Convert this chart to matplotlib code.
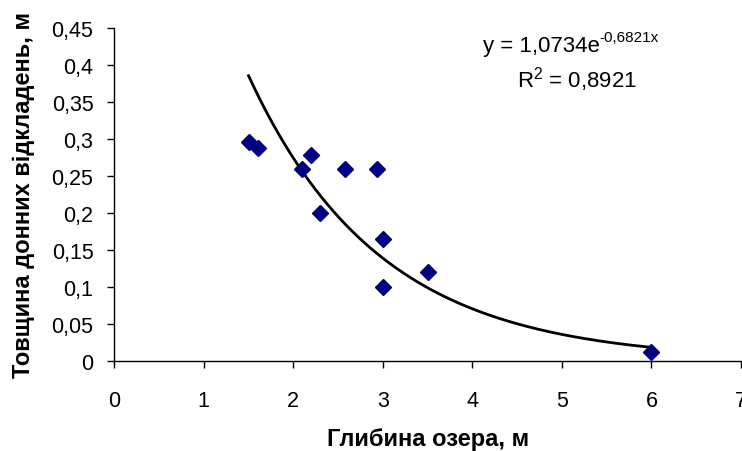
import numpy as np
import matplotlib
matplotlib.use("Agg")
import matplotlib.pyplot as plt
from matplotlib.ticker import FuncFormatter

plt.rcParams['font.family'] = ['Liberation Sans', 'DejaVu Sans']
plt.rcParams['mathtext.fontset'] = 'custom'
plt.rcParams['mathtext.rm'] = 'Liberation Sans'
plt.rcParams['mathtext.it'] = 'Liberation Sans'

# Data
depth = [1.5, 1.6, 2.1, 2.2, 2.3, 2.58, 2.93, 3.0, 3.0, 3.5, 6.0]
thickness = [0.296, 0.288, 0.26, 0.278, 0.2, 0.26, 0.26, 0.165, 0.1, 0.12, 0.012]
coef_a = 1.0734
coef_b = -0.6821
r2 = 0.8921
x_ticks = [0, 1, 2, 3, 4, 5, 6, 7]
y_ticks = [0, 0.05, 0.1, 0.15, 0.2, 0.25, 0.3, 0.35, 0.4, 0.45]

fig = plt.figure(figsize=(7.42, 4.52), dpi=100)
ax = fig.add_axes([0.154, 0.2, 0.8447, 0.735])

xs = np.linspace(min(depth), max(depth), 200)
ax.plot(xs, coef_a * np.exp(coef_b * xs), color='black', lw=2.0, zorder=2)
ax.plot(depth, thickness, linestyle='none', marker='D', markersize=8,
        color='#000080', zorder=3)

ax.set_xlim(0, 7)
ax.set_ylim(0, 0.45)
ax.set_xticks(x_ticks)
ax.set_yticks(y_ticks)

def fmt(v, pos):
    s = ('%.2f' % v).rstrip('0').rstrip('.')
    return s.replace('.', ',')

ax.xaxis.set_major_formatter(FuncFormatter(fmt))
ax.yaxis.set_major_formatter(FuncFormatter(fmt))

for s in ['top', 'right']:
    ax.spines[s].set_visible(False)
for s in ['left', 'bottom']:
    ax.spines[s].set_linewidth(1.0)
    ax.spines[s].set_color('black')
ax.tick_params(direction='out', length=5, width=1.0, labelsize=15.5)
ax.tick_params(axis='y', pad=10)
ax.tick_params(axis='x', pad=16)

ax.set_xlabel('Глибина озера, м', fontsize=17, fontweight='bold', labelpad=12)
ax.set_ylabel('Товщина донних відкладень, м', fontsize=17, fontweight='bold', labelpad=12)

a_str = ('%.4f' % coef_a).replace('.', ',')
b_str = ('%.4f' % coef_b).replace('.', ',')
r_str = ('%.4f' % r2).replace('.', ',')

t_main = fig.text(483 / 742, 1 - 52 / 452, 'y = ' + a_str + 'e', fontsize=16,
                  ha='left', va='baseline')
fig.canvas.draw()
bb = t_main.get_window_extent(renderer=fig.canvas.get_renderer())
fig.text(bb.x1 / fig.bbox.width, 1 - 42 / 452, b_str + 'x', fontsize=11,
         ha='left', va='baseline')

fig.text(577 / 742, 1 - 87 / 452, 'R$^{\\mathrm{2}}$ = ' + r_str, fontsize=16,
         ha='center', va='baseline')

fig.savefig('out.png', dpi=100)
